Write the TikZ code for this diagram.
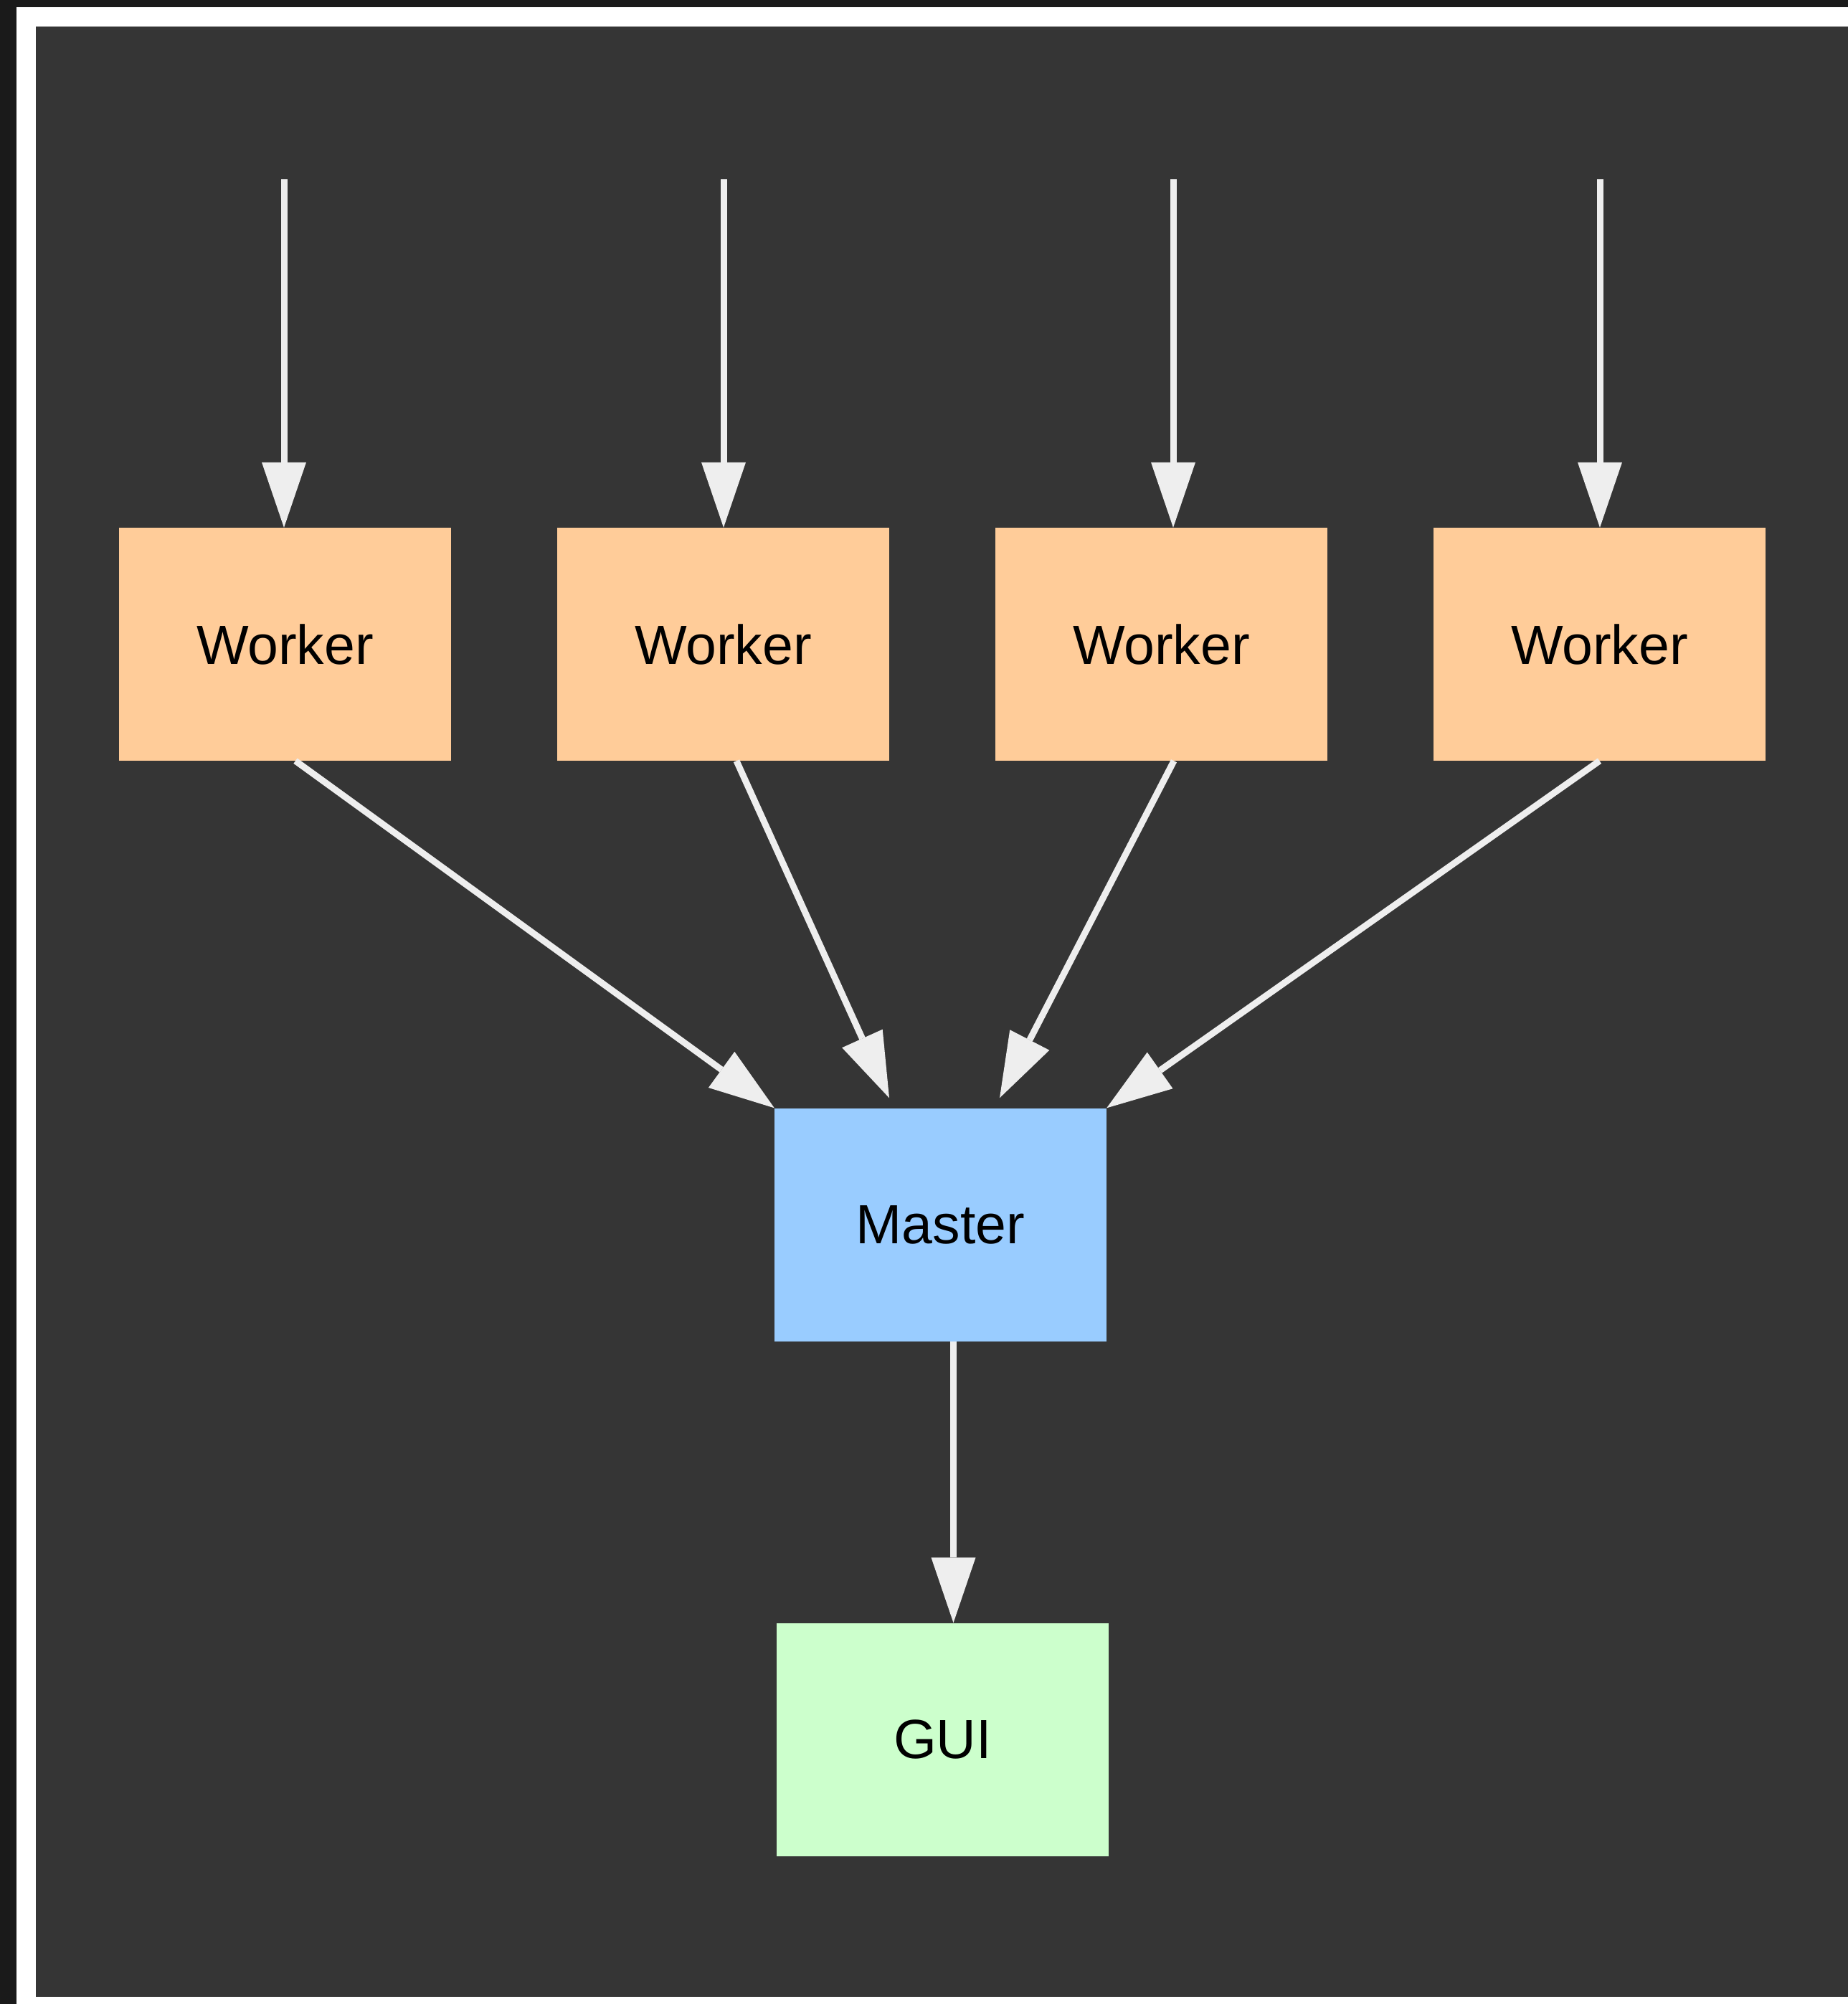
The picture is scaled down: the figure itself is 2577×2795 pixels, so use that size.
\documentclass[tikz,border=0pt]{standalone}
\usepackage{fontspec}
\setmainfont{Liberation Sans}
\usetikzlibrary{arrows.meta,calc}

\definecolor{frameDark}{HTML}{1A1A1A}
\definecolor{panelBg}{HTML}{353535}
\definecolor{workerFill}{HTML}{FFCC99}
\definecolor{masterFill}{HTML}{99CCFF}
\definecolor{guiFill}{HTML}{CCFFCC}
\definecolor{flowLine}{HTML}{EEEEEE}

\tikzset{
  box/.style={rectangle, inner sep=0pt, minimum width=463pt, minimum height=325pt,
              text=black, font=\fontsize{77}{92}\selectfont},
  workerbox/.style={box, fill=workerFill},
  masterbox/.style={box, fill=masterFill},
  guibox/.style={box, fill=guiFill},
  flow/.style={draw=flowLine, line width=9pt,
               -{Triangle[length=91pt, width=62pt, line width=0pt, fill=flowLine]}}
}

\begin{document}
\begin{tikzpicture}[x=1pt, y=-1pt]
  \useasboundingbox (0,0) rectangle (2577,2795);

  % frame and panel
  \fill[frameDark] (0,0) rectangle (2577,2795);
  \fill[white] (23,10) rectangle (2577,2795);
  \fill[panelBg] (50,37) rectangle (2577,2785);

  % workers
  \node[workerbox] (w1) at (397.5,898.5)  {Worker};
  \node[workerbox] (w2) at (1008.5,898.5) {Worker};
  \node[workerbox] (w3) at (1619.5,898.5) {Worker};
  \node[workerbox] (w4) at (2230.5,898.5) {Worker};

  % master and GUI
  \node[masterbox] (m) at (1311.5,1708) {Master};
  \node[guibox]    (g) at (1314.5,2426) {GUI};

  % free ends of the incoming edges
  \coordinate (t1) at (396,250);
  \coordinate (t2) at (1009,250);
  \coordinate (t3) at (1636,250);
  \coordinate (t4) at (2231,250);

  \draw[flow] (t1) -- (t1 |- w1.north);
  \draw[flow] (t2) -- (t2 |- w2.north);
  \draw[flow] (t3) -- (t3 |- w3.north);
  \draw[flow] (t4) -- (t4 |- w4.north);

  % workers to master
  \draw[flow] ($(w1.south)+(14.5,0)$) -- (m.north west);
  \draw[flow] ($(w2.south)+(18.5,0)$) -- ($(m.north)+(-71.5,-14)$);
  \draw[flow] ($(w3.south)+(17.5,0)$) -- ($(m.north)+(82.5,-14)$);
  \draw[flow] (w4.south) -- (m.north east);

  % master to GUI
  \draw[flow] ($(m.south)+(18,0)$) -- ($(g.north)+(15,0)$);
\end{tikzpicture}
\end{document}
